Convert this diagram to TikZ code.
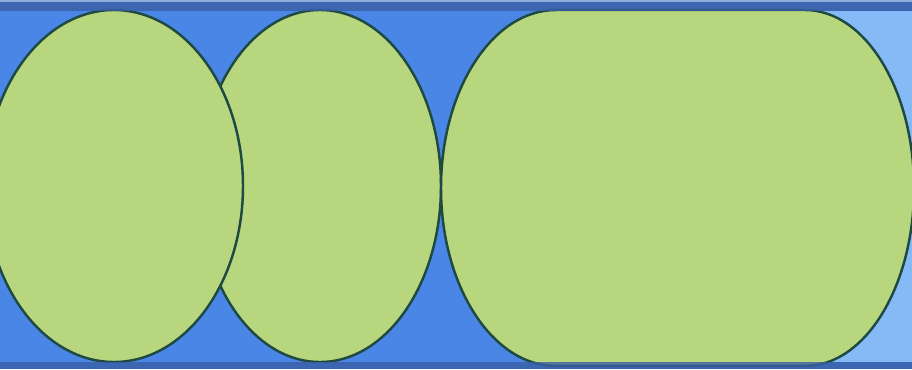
\documentclass[tikz,border=0pt]{standalone}
\usetikzlibrary{calc}
\usepackage{xcolor}
\definecolor{bgblue}{HTML}{4A86E6}
\definecolor{paleblue}{HTML}{86BAF6}
\definecolor{bandblue}{HTML}{3A5FA6}
\definecolor{rimline}{HTML}{8EAEDC}
\definecolor{cellgreen}{HTML}{B8D67E}
\definecolor{rimgreen}{HTML}{1E4A42}
\tikzset{
  cell/.style={draw=rimgreen,fill=cellgreen,line width=1.4pt},
  band/.style={fill=bandblue,fill opacity=0.8},
}
\begin{document}
\begin{tikzpicture}[x=0.02cm,y=-0.02cm]
  \clip (0,0) rectangle (912,369);
  \fill[bgblue] (0,0) rectangle (912,369);
  \fill[paleblue] (805,11) rectangle (912,362);

  % cells, middle one first so the left one lies over it
  \draw[cell] (320,186) ellipse [x radius=121, y radius=176];
  \draw[cell] (114,186) ellipse [x radius=129, y radius=176];
  \draw[cell] (556,10) -- (805,10)
    arc[start angle=-90, end angle=90, x radius=109, y radius=178]
    -- (556,366)
    arc[start angle=90, end angle=270, x radius=115, y radius=178] -- cycle;

  % edges of the strip
  \fill[band] (0,0) rectangle (912,11);
  \fill[band] (0,362) rectangle (912,369);
  \draw[rimline, line width=1pt] (0,0.8) -- (912,0.8);
\end{tikzpicture}
\end{document}
